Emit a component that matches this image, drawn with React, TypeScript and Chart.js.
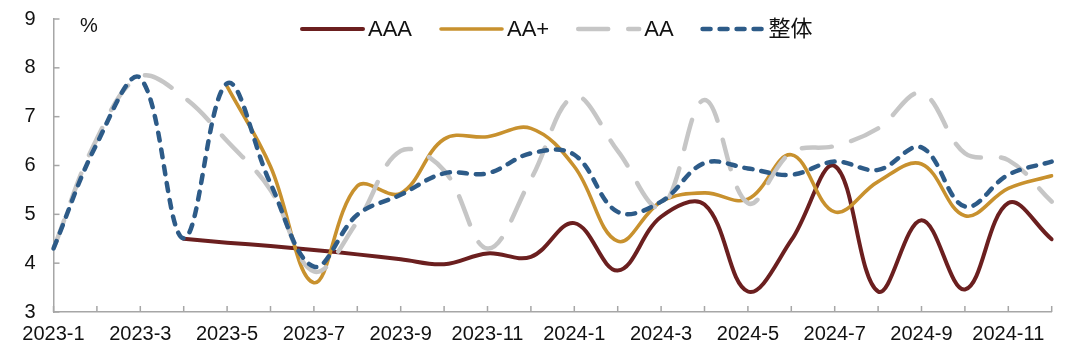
import { useEffect, useRef } from 'react';
import { Chart, registerables } from 'chart.js';

Chart.register(...registerables);

const months = [
  '2023-1', '2023-2', '2023-3', '2023-4', '2023-5', '2023-6', '2023-7', '2023-8', '2023-9', '2023-10', '2023-11', '2023-12',
  '2024-1', '2024-2', '2024-3', '2024-4', '2024-5', '2024-6', '2024-7', '2024-8', '2024-9', '2024-10', '2024-11', '2024-12',
];

const seriesNames = ['AAA', 'AA+', 'AA', '整体'];

const aaa = [null, null, null, 4.5, 4.42, 4.35, 4.27, 4.18, 4.08, 3.98, 4.2, 4.13, 4.82, 3.85, 4.95, 5.2, 3.42, 4.47, 5.99, 3.42, 4.88, 3.46, 5.23, 4.49];
const aaPlus = [null, null, null, null, 7.62, 5.98, 3.6, 5.58, 5.43, 6.54, 6.59, 6.76, 5.98, 4.45, 5.26, 5.44, 5.31, 6.22, 5.05, 5.67, 6.03, 4.97, 5.53, 5.79];
const aa = [4.3, 6.55, 7.82, 7.4, 6.5, 5.5, 3.83, 4.85, 6.3, 5.9, 4.3, 5.72, 7.41, 6.3, 5.15, 7.34, 5.23, 6.27, 6.4, 6.76, 7.48, 6.25, 6.11, 5.26];
const overall = [4.3, 6.45, 7.79, 4.51, 7.68, 5.63, 3.93, 4.99, 5.4, 5.84, 5.84, 6.25, 6.22, 5.05, 5.26, 6.05, 5.94, 5.81, 6.08, 5.91, 6.37, 5.16, 5.81, 6.08];

const yTicks = [3, 4, 5, 6, 7, 8, 9];
const unitLabel = '%';

const colors = ['#6b1f1f', '#c8912e', '#c6c6c6', '#2d5b88'];
const widths = [4, 3.6, 4.5, 4.5];
const dashes: number[][] = [[], [], [30, 20], [8, 9]];

const FONT = "'Liberation Sans', 'Noto Sans CJK SC', Arial, sans-serif";

const overlayPlugin = {
  id: 'overlay',
  afterDraw(chart: any) {
    const ctx = chart.ctx as CanvasRenderingContext2D;
    const xs = chart.scales.x;
    const ys = chart.scales.y;
    const area = chart.chartArea;
    ctx.save();
    // inward tick marks
    ctx.strokeStyle = '#a6a6a6';
    ctx.lineWidth = 1.5;
    ctx.setLineDash([]);
    xs.ticks.forEach((_t: any, i: number) => {
      const px = xs.getPixelForTick(i);
      ctx.beginPath();
      ctx.moveTo(px, area.bottom);
      ctx.lineTo(px, area.bottom - 6);
      ctx.stroke();
    });
    ys.ticks.forEach((_t: any, i: number) => {
      const py = ys.getPixelForTick(i);
      ctx.beginPath();
      ctx.moveTo(area.left, py);
      ctx.lineTo(area.left + 6, py);
      ctx.stroke();
    });
    // unit label
    ctx.fillStyle = '#111';
    ctx.font = `20px ${FONT}`;
    ctx.textAlign = 'left';
    ctx.textBaseline = 'middle';
    ctx.fillText(unitLabel, 72, 18);
    // legend
    ctx.font = `22px ${FONT}`;
    let x = 292;
    const ly = 21;
    seriesNames.forEach((name, i) => {
      ctx.strokeStyle = colors[i];
      ctx.lineWidth = widths[i];
      ctx.lineCap = 'round';
      ctx.setLineDash(dashes[i]);
      ctx.beginPath();
      ctx.moveTo(x + 2, ly);
      ctx.lineTo(x + 63, ly);
      ctx.stroke();
      ctx.setLineDash([]);
      ctx.fillStyle = '#111';
      ctx.fillText(name, x + 68, ly + 1);
      const w = ctx.measureText(name).width;
      x = x + 68 + w + 27;
    });
    ctx.restore();
  },
};

export default function App() {
  const ref = useRef<HTMLCanvasElement | null>(null);
  useEffect(() => {
    if (!ref.current) return;
    const series = [aaa, aaPlus, aa, overall];
    const chart = new Chart(ref.current, {
      type: 'line',
      data: {
        labels: months,
        datasets: series.map((d, i) => ({
          label: seriesNames[i],
          data: d,
          borderColor: colors[i],
          backgroundColor: colors[i],
          borderWidth: widths[i],
          borderDash: dashes[i],
          borderCapStyle: 'round',
          pointRadius: 0,
          pointHoverRadius: 0,
          tension: 0.38,
          fill: false,
          order: 3 - i,
        })),
      },
      options: {
        responsive: false,
        animation: false,
        layout: { padding: { top: 11, right: 20.3, left: 0, bottom: 0 } },
        plugins: {
          legend: { display: false },
          tooltip: { enabled: false },
        },
        scales: {
          x: {
            type: 'category',
            offset: false,
            grid: { display: false, drawTicks: false },
            border: { display: true, color: '#a6a6a6', width: 1.5 },
            ticks: {
              autoSkip: false,
              maxRotation: 0,
              minRotation: 0,
              padding: 10,
              color: '#111',
              font: { size: 20, family: FONT },
              callback: (_v: any, idx: number) => (idx % 2 === 0 ? months[idx] : ''),
            },
            afterFit: (s: any) => {
              s.height = 37;
              s.paddingLeft = 0;
              s.paddingRight = 0;
            },
          },
          y: {
            min: yTicks[0],
            max: yTicks[yTicks.length - 1],
            grid: { display: false, drawTicks: false },
            border: { display: true, color: '#a6a6a6', width: 1.5 },
            afterBuildTicks: (s: any) => {
              s.ticks = yTicks.map((v) => ({ value: v }));
            },
            ticks: {
              padding: 18,
              color: '#111',
              font: { size: 20, family: FONT },
            },
            afterFit: (s: any) => {
              s.width = 45.5;
              s.paddingTop = 0;
              s.paddingBottom = 0;
            },
          },
        },
      },
      plugins: [overlayPlugin],
    } as any);
    return () => chart.destroy();
  }, []);
  return (
    <div style={{ width: 1064, height: 341 }}>
      <canvas ref={ref} width={1064} height={341} />
    </div>
  );
}
